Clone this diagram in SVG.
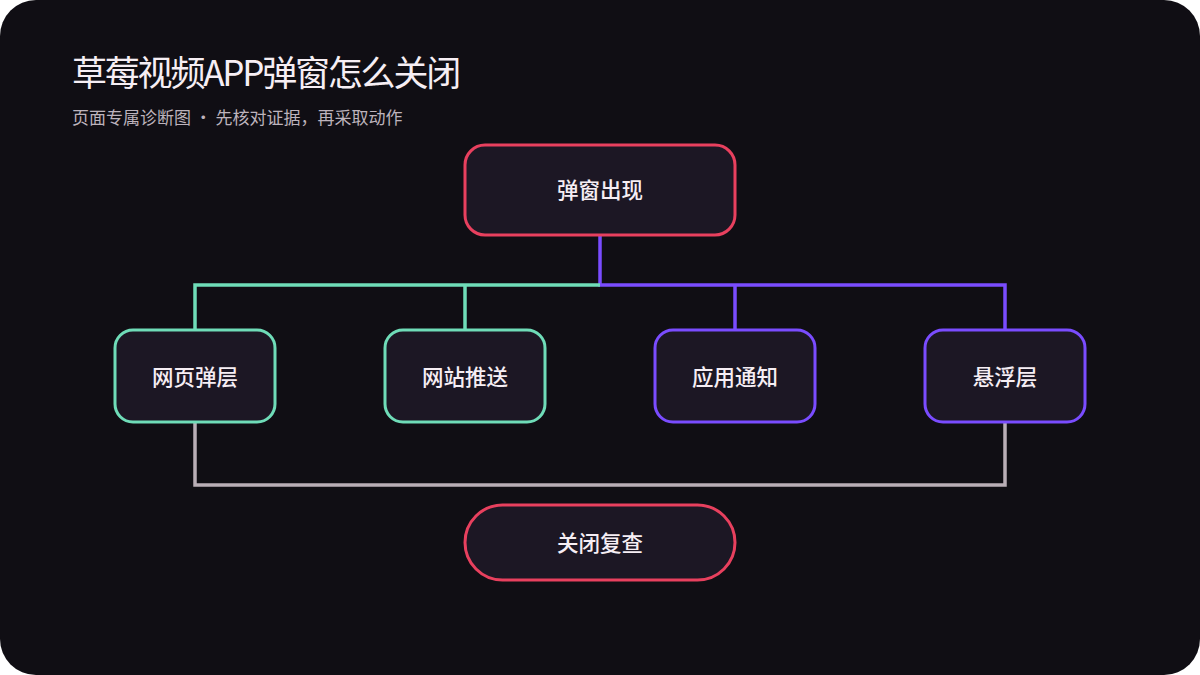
<svg xmlns="http://www.w3.org/2000/svg" width="1200" height="675" viewBox="0 0 1200 675">
<style>
.bg{fill:#100e14}
.box{fill:#1c1724;stroke-width:3}
.red{stroke:#e8405e}
.green{stroke:#6fdcb8}
.purple{stroke:#7a4cff}
.lbl{font-family:"Noto Sans CJK SC","Noto Sans",sans-serif;font-size:21.5px;font-weight:500;fill:#f6eef4;text-anchor:middle;dominant-baseline:central}
.conn{fill:none;stroke-width:3.5}
</style>
<rect width="1200" height="675" fill="#ffffff"/>
<rect class="bg" x="0" y="0" width="1200" height="675" rx="36"/>
<text x="72" y="86" font-family="Noto Sans CJK SC,Noto Sans,sans-serif" font-size="35" letter-spacing="-2.2" fill="#f6eef4">草莓视频APP弹窗怎么关闭</text>
<text x="72" y="124" font-family="Noto Sans CJK SC,Noto Sans,sans-serif" font-size="17" fill="#bdb3bc">页面专属诊断图 · 先核对证据，再采取动作</text>
<g id="connectors">
<path class="conn purple" d="M600 236 V285 H1005 V330 M735 285 V330"/>
<path class="conn green" d="M600 285 H195 V330 M465 285 V330"/>
<path class="conn" stroke="#b9aeb6" d="M195 422 V485 H1005 V422"/>
</g>
<g id="n-top"><rect class="box red" x="465" y="145" width="270" height="90" rx="20"/><text class="lbl" x="600" y="188">弹窗出现</text></g>
<g id="n-web"><rect class="box green" x="115" y="330" width="160" height="92" rx="18"/><text class="lbl" x="195" y="375">网页弹层</text></g>
<g id="n-push"><rect class="box green" x="385" y="330" width="160" height="92" rx="18"/><text class="lbl" x="465" y="375">网站推送</text></g>
<g id="n-notify"><rect class="box purple" x="655" y="330" width="160" height="92" rx="18"/><text class="lbl" x="735" y="375">应用通知</text></g>
<g id="n-float"><rect class="box purple" x="925" y="330" width="160" height="92" rx="18"/><text class="lbl" x="1005" y="375">悬浮层</text></g>
<g id="n-close"><rect class="box red" x="465" y="505" width="270" height="75" rx="37.5"/><text class="lbl" x="600" y="541">关闭复查</text></g>
</svg>
